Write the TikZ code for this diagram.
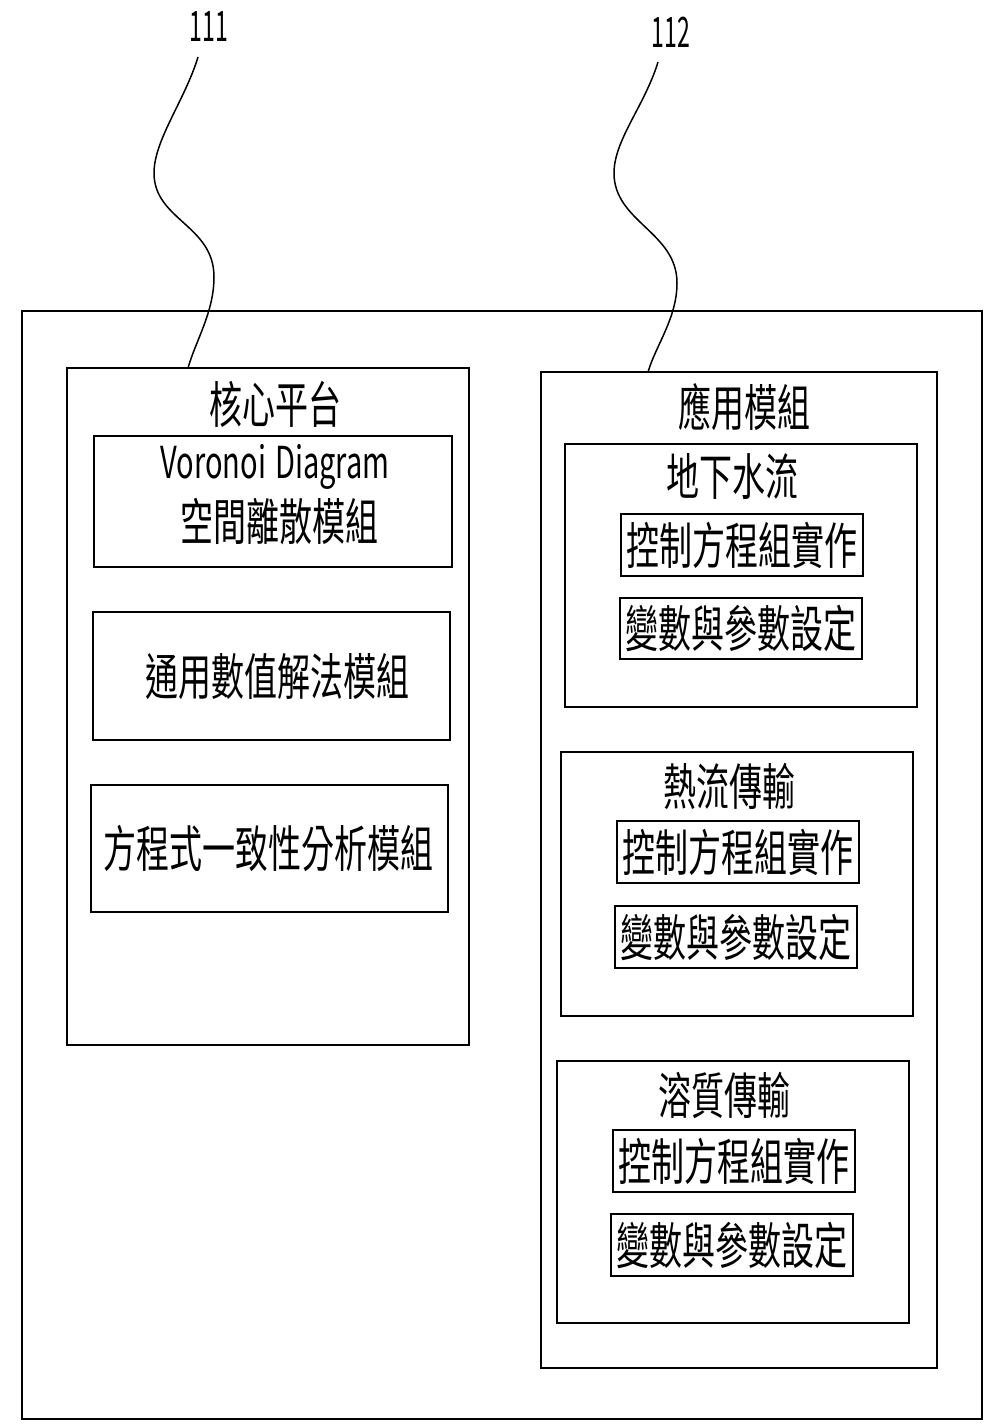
\documentclass[tikz,border=0pt]{standalone}
\usepackage{fontspec}
\newfontfamily\cjk[FakeStretch=0.66]{Noto Sans CJK TC}
\newfontfamily\numfont[FakeStretch=0.55]{Noto Sans CJK TC}
\newcommand\mkbox[5]{\node[box, minimum width={#4-#2}, minimum height={#5-#3}] (#1) at ({(#2+#4)/2},{(#3+#5)/2}) {};}
\begin{document}
\begin{tikzpicture}[x=1pt,y=-1pt,
  box/.style={draw, line width=2.2pt, inner sep=0pt},
  txt/.style={font=\cjk\fontsize{50}{55}\selectfont, inner sep=0pt},
  lat/.style={font=\cjk\fontsize{44}{50}\selectfont, inner sep=0pt},
  lbl/.style={font=\numfont\fontsize{42}{46}\selectfont, inner sep=0pt},
  lead/.style={line width=1.5pt}]
\useasboundingbox[fill=white] (0,0) rectangle (987,1427);
% outer frame
\mkbox{outer}{22}{311}{982}{1419}
% core platform
\mkbox{core}{67}{368}{469}{1045}
\node[txt] (tcore) at (275,404) {核心平台};
\mkbox{c1}{94}{436}{452}{567}
\node[lat, anchor=base] (tc1a) at (275,478) {Voronoi\hspace{9pt}Diagram};
\node[txt] (tc1b) at (279,522) {空間離散模組};
\mkbox{c2}{93}{612}{450}{740}
\node[txt] (tc2) at (277,677) {通用數值解法模組};
\mkbox{c3}{91}{785}{448}{912}
\node[txt] (tc3) at (268,848) {方程式一致性分析模組};
% application modules
\mkbox{app}{541}{372}{937}{1368}
\node[txt] (tapp) at (744,407) {應用模組};
% sub 1
\mkbox{s1}{565}{444}{917}{707}
\node[txt] (ts1) at (732,477) {地下水流};
\mkbox{s1a}{621}{514}{863}{576}
\node[txt] (ts1a) at (742,545) {控制方程組實作};
\mkbox{s1b}{620}{598}{862}{659}
\node[txt] (ts1b) at (741,628) {變數與參數設定};
% sub 2
\mkbox{s2}{561}{752}{913}{1016}
\node[txt] (ts2) at (729,786) {熱流傳輸};
\mkbox{s2a}{617}{821}{859}{883}
\node[txt] (ts2a) at (738,852) {控制方程組實作};
\mkbox{s2b}{615}{906}{857}{968}
\node[txt] (ts2b) at (736,937) {變數與參數設定};
% sub 3
\mkbox{s3}{557}{1061}{909}{1323}
\node[txt] (ts3) at (724,1095) {溶質傳輸};
\mkbox{s3a}{613}{1130}{855}{1192}
\node[txt] (ts3a) at (734,1161) {控制方程組實作};
\mkbox{s3b}{611}{1214}{853}{1276}
\node[txt] (ts3b) at (732,1245) {變數與參數設定};
% reference labels and leaders
\node[lbl] (n111) at (209,27) {111};
\node[lbl] (n112) at (671,32) {112};
\coordinate (s111) at (198,57);
\coordinate (e111) at (188,368);
\coordinate (s112) at (658,62);
\coordinate (e112) at (648,372);
\draw[lead] (s111) .. controls (185,100) and (154,140) .. (154,173)
  .. controls (154,220) and (214,225) .. (214,277)
  .. controls (214,312) and (196,340) .. (e111);
\draw[lead] (s112) .. controls (645,105) and (614,140) .. (614,173)
  .. controls (614,222) and (677,232) .. (677,283)
  .. controls (677,318) and (656,345) .. (e112);
\end{tikzpicture}
\end{document}
